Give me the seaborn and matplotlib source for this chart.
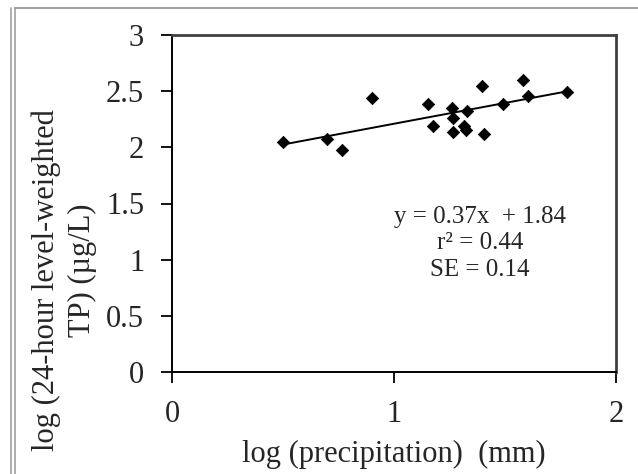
import matplotlib
matplotlib.use("Agg")
import matplotlib.pyplot as plt
import seaborn as sns
import numpy as np
import pandas as pd
from matplotlib.lines import Line2D

# data
log_precip = [0.50, 0.70, 0.765, 0.90, 1.154, 1.177, 1.26, 1.267, 1.267, 1.315,
              1.324, 1.33, 1.395, 1.405, 1.492, 1.583, 1.603, 1.778]
log_tp = [2.05, 2.07, 1.98, 2.44, 2.39, 2.19, 2.35, 2.26, 2.14, 2.19,
          2.15, 2.32, 2.55, 2.12, 2.39, 2.60, 2.46, 2.49]
slope = 0.37
intercept = 1.84
x_ticks = [0, 1, 2]
x_tick_labels = ["0", "1", "2"]
y_ticks = [0, 0.5, 1, 1.5, 2, 2.5, 3]
y_tick_labels = ["0", "0.5", "1", "1.5", "2", "2.5", "3"]
stats_text = ["y = 0.37x  + 1.84", "r\u00b2 = 0.44", "SE = 0.14"]
x_label = "log (precipitation)  (mm)"
y_label_lines = ["log (24-hour level-weighted", "TP) (\u00b5g/L)"]

sns.set_theme(style="white")
plt.rcParams['font.family'] = ['Liberation Serif', 'DejaVu Serif']

W, H = 638, 474
fig = plt.figure(figsize=(W / 100, H / 100), dpi=100)
ax = fig.add_axes([172 / W, 1 - 372 / H, (616 - 172) / W, (372 - 35) / H])

df = pd.DataFrame({"x": log_precip, "y": log_tp})
sns.scatterplot(data=df, x="x", y="y", ax=ax, marker="D", s=40,
                color="black", edgecolor="black", linewidth=0.5, zorder=3)

xl = np.array([min(log_precip), max(log_precip)])
ax.plot(xl, slope * xl + intercept, color="black", lw=1.4, zorder=2)

ax.set_xlim(0, 2)
ax.set_ylim(0, 3)
ax.set_xticks(x_ticks)
ax.set_xticklabels(x_tick_labels, fontsize=22)
ax.set_yticks(y_ticks)
ax.set_yticklabels(y_tick_labels, fontsize=22)
ax.tick_params(axis="both", which="major", direction="out", length=8,
               width=1.3, color="black", bottom=True, left=True)
ax.tick_params(axis="y", pad=12)
ax.tick_params(axis="x", pad=12)
ax.set_xlabel(x_label, fontsize=22, labelpad=8)
ax.set_ylabel("")

for side in ["left", "bottom"]:
    ax.spines[side].set_color("black")
    ax.spines[side].set_linewidth(1.4)
for side in ["top", "right"]:
    ax.spines[side].set_color("#404040")
    ax.spines[side].set_linewidth(2.0)

for i, t in enumerate(stats_text):
    ax.text(1.387, 1.38 - i * 0.235, t, ha="center", va="center", fontsize=18)

fig.text(46 / W, 1 - 280 / H, y_label_lines[0], rotation=90, ha="center",
         va="center", fontsize=22)
fig.text(82 / W, 1 - 270 / H, y_label_lines[1], rotation=90, ha="center",
         va="center", fontsize=22)

# page frame lines
fig.add_artist(Line2D([15 / W, 1], [1 - 8 / H, 1 - 8 / H], transform=fig.transFigure,
                      color="#a0a0a0", lw=1.5))
fig.add_artist(Line2D([11 / W, 11 / W], [0, 1 - 8 / H], transform=fig.transFigure,
                      color="#a0a0a0", lw=1.2))
fig.add_artist(Line2D([15 / W, 15 / W], [0, 1 - 8 / H], transform=fig.transFigure,
                      color="#a0a0a0", lw=1.2))

fig.savefig("out.png", dpi=100)
